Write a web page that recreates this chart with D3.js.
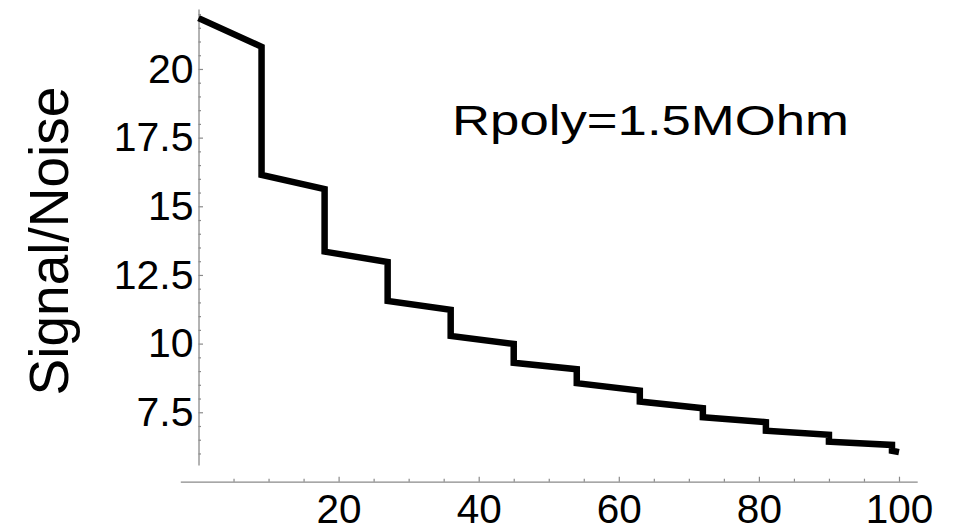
<!DOCTYPE html>
<html>
<head>
<meta charset="utf-8">
<script src="https://cdn.jsdelivr.net/npm/d3@7"></script>
<style>
  html, body { margin: 0; padding: 0; background: #fff; }
  svg { display: block; }
  text { font-family: "Liberation Sans", Arial, sans-serif; fill: #000; }
</style>
</head>
<body>
<svg id="chart" width="959" height="532"></svg>
<script>
// ---- data ----
const pointX = [0, 9, 9, 18, 18, 27, 27, 36, 36, 45, 45, 54, 54, 63, 63, 72, 72, 81, 81, 90, 90, 99, 99, 100];
const pointY = [21.85, 20.81, 16.14, 15.63, 13.35, 12.97, 11.55, 11.23, 10.28, 9.99, 9.30, 9.07, 8.56, 8.29, 7.89, 7.65, 7.32, 7.14, 6.83, 6.68, 6.43, 6.31, 6.10, 6.05];
const xMajorTicks = [20, 40, 60, 80, 100];
const xMinorTicks = [5, 10, 15, 25, 30, 35, 45, 50, 55, 65, 70, 75, 85, 90, 95];
const yMajorTicks = [7.5, 10, 12.5, 15, 17.5, 20];
const yMinorTicks = [6, 6.5, 7, 8, 8.5, 9, 9.5, 10.5, 11, 11.5, 12, 13, 13.5, 14, 14.5, 15.5, 16, 16.5, 17, 18, 18.5, 19, 19.5, 20.5, 21, 21.5, 22];
const yTitle = "Signal/Noise";
const note = "Rpoly=1.5MOhm";

const svg = d3.select("#chart");
const axisColor = "#8a8a8a";

const x = d3.scaleLinear().domain([-2.6, 102.6]).range([180.3, 917.2]);
const y = d3.scaleLinear().domain([5.58, 22.18]).range([465, 9.1]);
const xAxisY = 481.7;
const yAxisX = x(0);

// ---- y axis ----
const gy = svg.append("g").attr("transform", `translate(${yAxisX},0)`);
gy.call(d3.axisLeft(y).tickValues(yMajorTicks).tickSizeInner(-4.5).tickSizeOuter(0).tickPadding(5)
  .tickFormat(d => String(d)));
gy.append("g").call(d3.axisLeft(y).tickValues(yMinorTicks).tickSizeInner(-2.5).tickSizeOuter(0).tickFormat(""))
  .select(".domain").remove();
gy.selectAll(".domain").attr("stroke", axisColor).attr("stroke-width", 1.3);
gy.selectAll(".tick line").attr("stroke", axisColor).attr("stroke-width", 1.2);
gy.selectAll(".tick text").attr("font-size", 41).attr("fill", "#000")
  .style("font-family", '"Liberation Sans", Arial, sans-serif');

// ---- x axis ----
const gx = svg.append("g").attr("transform", `translate(0,${xAxisY})`);
gx.call(d3.axisBottom(x).tickValues(xMajorTicks).tickSizeInner(-5).tickSizeOuter(0).tickPadding(15)
  .tickFormat(d => String(d)));
gx.append("g").call(d3.axisBottom(x).tickValues(xMinorTicks).tickSizeInner(-3).tickSizeOuter(0).tickFormat(""))
  .select(".domain").remove();
gx.selectAll(".domain").attr("stroke", axisColor).attr("stroke-width", 1.3);
gx.selectAll(".tick line").attr("stroke", axisColor).attr("stroke-width", 1.2);
gx.selectAll(".tick text").attr("font-size", 40.5).attr("fill", "#000")
  .attr("y", 41.5).attr("dy", 0)
  .style("font-family", '"Liberation Sans", Arial, sans-serif');

// ---- line ----
const pts = pointX.map((d, i) => [d, pointY[i]]);
svg.append("path")
  .datum(pts)
  .attr("fill", "none")
  .attr("stroke", "#000")
  .attr("stroke-width", 6.5)
  .attr("stroke-linejoin", "miter")
  .attr("d", d3.line().x(d => x(d[0])).y(d => y(d[1])));

// ---- texts ----
svg.append("text")
  .attr("transform", "translate(68,241) rotate(-90)")
  .attr("text-anchor", "middle")
  .attr("font-size", 55)
  .text(yTitle);

svg.append("text")
  .attr("x", 452).attr("y", 135)
  .attr("font-size", 42)
  .attr("textLength", 397)
  .attr("lengthAdjust", "spacingAndGlyphs")
  .text(note);
</script>
</body>
</html>
